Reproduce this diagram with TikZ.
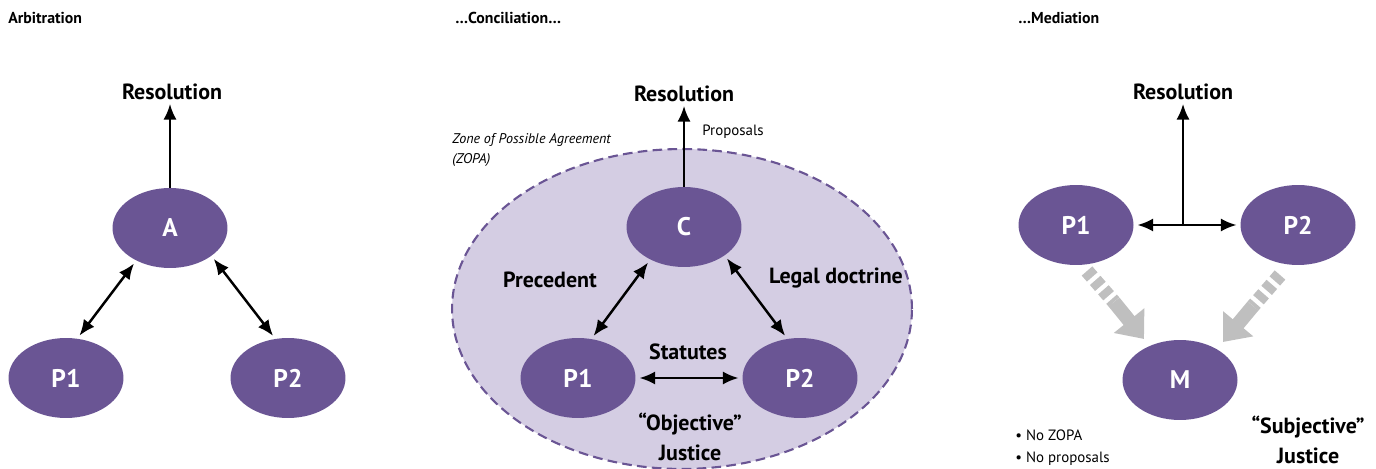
\documentclass[tikz,border=0pt]{standalone}
\usepackage{fontspec}
\setmainfont{PT Sans}
\usepackage{tikz}
\usetikzlibrary{arrows.meta,positioning,shapes.geometric}
\definecolor{nodepurple}{HTML}{6A5594}
\definecolor{zopafill}{HTML}{D4CDE3}
\definecolor{fatgray}{HTML}{BFBFBF}
\tikzset{
  party/.style={ellipse,fill=nodepurple,inner sep=0pt,minimum width=2.3cm,minimum height=1.6cm,
    text=white,font=\bfseries\fontsize{14.5}{16}\selectfont},
  lbl/.style={font=\bfseries\fontsize{12.5}{17}\selectfont,inner sep=2pt,align=center},
  paneltitle/.style={font=\bfseries\fontsize{9}{11}\selectfont,anchor=west,inner sep=0pt},
  note/.style={font=\fontsize{8.5}{12.5}\selectfont,anchor=west,inner sep=0pt,align=left},
  dbl/.style={{Latex[length=9pt,width=7.5pt]}-{Latex[length=9pt,width=7.5pt]},line width=1.4pt,
    shorten <=2pt,shorten >=2pt},
  up/.style={-{Latex[length=9pt,width=7.5pt]},line width=1.4pt},
  stripe/.style={fatgray,line width=8pt,dash pattern=on 4.5pt off 2.6pt},
  fat/.style={fatgray,line width=8pt,-{Triangle[length=13.5pt,width=21.5pt]}},
}
\begin{document}
\begin{tikzpicture}[x=0.02cm,y=-0.02cm]
\useasboundingbox (0,0) rectangle (1376,469);
% ---- left panel: arbitration ----
\node[paneltitle] (tarb) at (8,18) {Arbitration};
\node[lbl] (resA) at (172,92) {Resolution};
\node[party] (A) at (170,228) {A};
\node[party] (P1a) at (66,378) {P1};
\node[party] (P2a) at (288,378) {P2};
\draw[up] (A.north) -- (A.north |- resA.south);
\draw[dbl] (A.224) -- (P1a.74);
\draw[dbl] (A.326) -- (P2a.108);
% ---- middle panel: conciliation ----
\node[paneltitle] (tcon) at (455,18) {\dots Conciliation\dots};
\node[ellipse,fill=zopafill,draw=nodepurple,line width=1.2pt,dash pattern=on 5.5pt off 3pt,
  minimum width=9.2cm,minimum height=6.4cm] (zopa) at (682,309) {};
\node[note,font=\itshape\fontsize{8}{11}\selectfont] (zlab) at (452,150) {Zone of Possible Agreement\\(ZOPA)};
\node[lbl] (resC) at (684,94) {Resolution};
\node[party] (C) at (684,227) {C};
\node[party] (P1b) at (578,378) {P1};
\node[party] (P2b) at (800,378) {P2};
\draw[up] (C.north) -- (C.north |- resC.south);
\node[note] (prop) at (702,132) {Proposals};
\draw[dbl] (C.224) -- (P1b.71);
\draw[dbl] (C.325) -- (P2b.108);
\draw[dbl] (P1b.east) -- (P2b.west);
\node[lbl] (prec) at (550,280) {Precedent};
\node[lbl] (legal) at (836,278) {Legal doctrine};
\node[lbl] (stat) at (688,352) {Statutes};
\node[lbl] (objj) at (690,437) {``Objective''\\Justice};
% ---- right panel: mediation ----
\node[paneltitle] (tmed) at (1018,18) {\dots Mediation};
\node[lbl] (resM) at (1183,92) {Resolution};
\node[party] (P1c) at (1076,225) {P1};
\node[party] (P2c) at (1298,225) {P2};
\node[party] (M) at (1180,380) {M};
\coordinate (hub) at (1183,226);
\draw[up] (hub) -- (hub |- resM.south);
\draw[dbl] (P1c.east) -- (P2c.west);
% grey arrows towards M
\draw[stripe] (1087,271) -- (1114,302);
\draw[fat] (1114,302) -- (1144,339);
\draw[stripe] (1280,275) -- (1253,306);
\draw[fat] (1253,306) -- (1223,342);
\node[note] (bul) at (1015,448) {\textbullet\ No ZOPA\\\textbullet\ No proposals};
\node[lbl] (subj) at (1308,440) {``Subjective''\\Justice};
\end{tikzpicture}
\end{document}
